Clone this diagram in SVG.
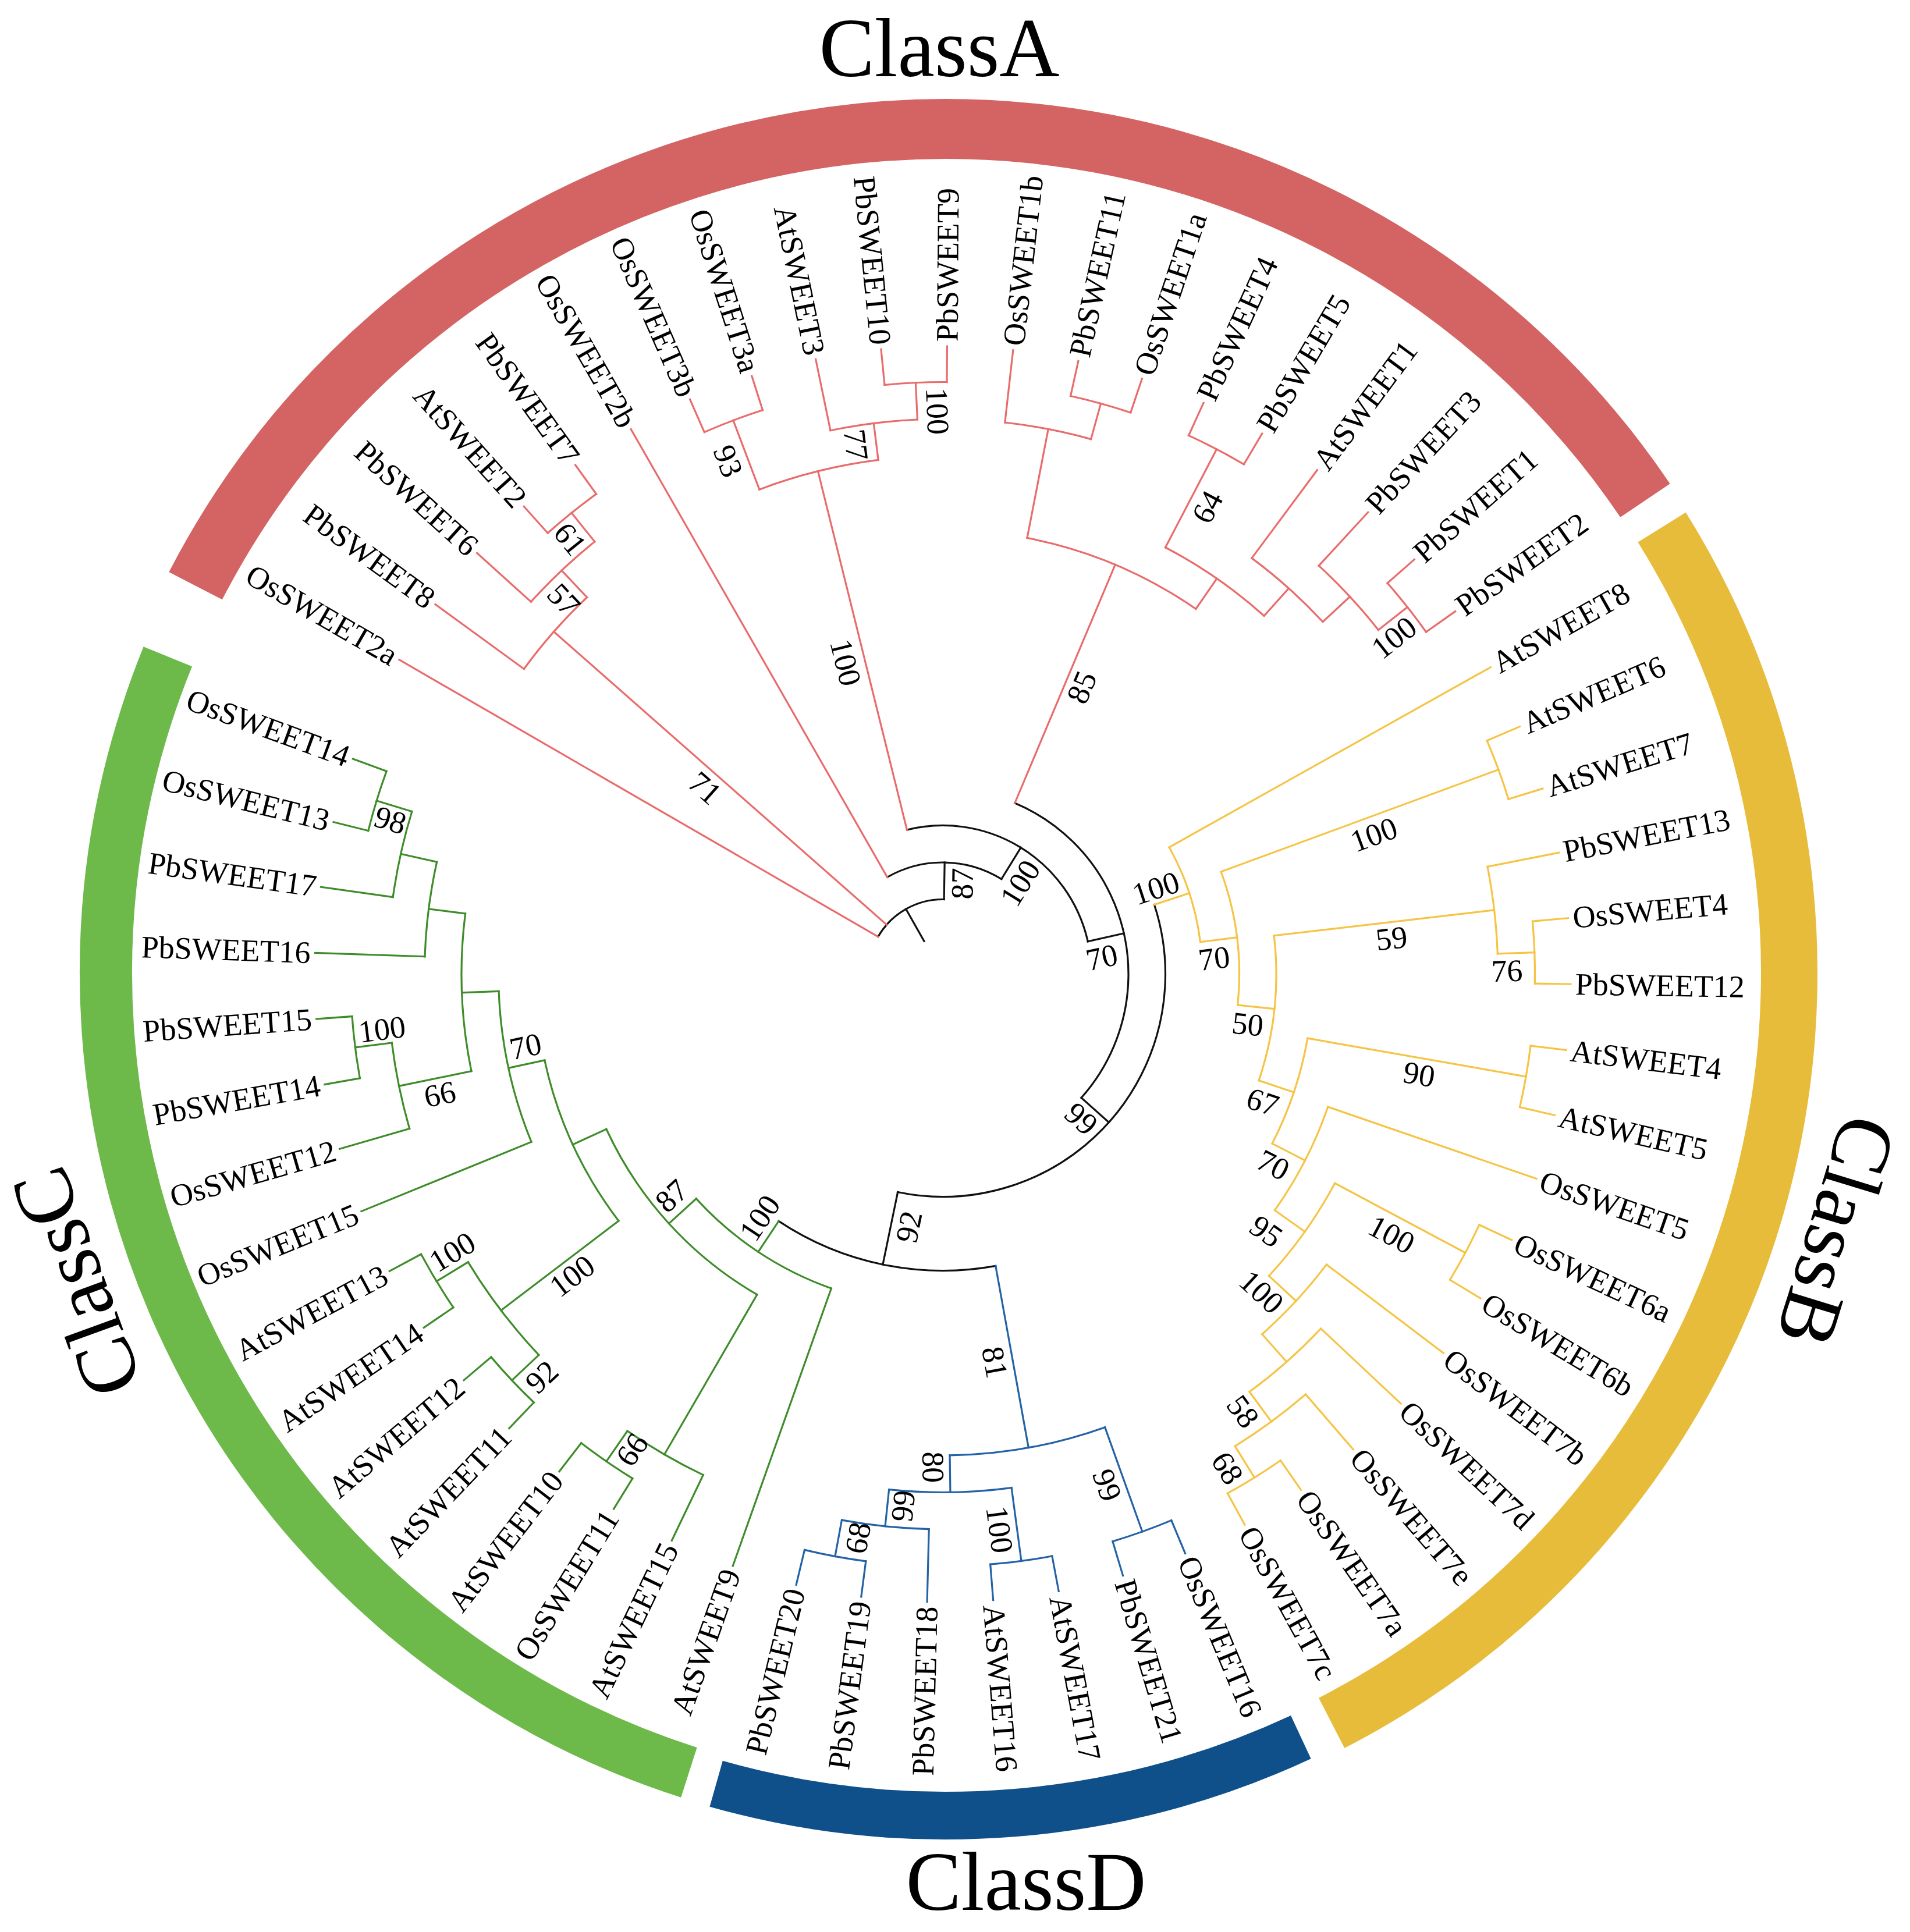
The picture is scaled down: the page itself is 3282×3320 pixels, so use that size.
<svg xmlns="http://www.w3.org/2000/svg" width="3282" height="3320" viewBox="0 0 3282 3320">
<style>
.c line,.c circle{fill:none;stroke-width:3.2;stroke-linecap:square}
.k{stroke:#111111}.r{stroke:#E96C6C}.y{stroke:#F6C445}.g{stroke:#3F8C2A}.u{stroke:#2462A6}
text{font-family:"Liberation Serif","Times New Roman",serif;fill:#000}
.lf text{font-size:54px;dominant-baseline:central}
.lf .f{text-anchor:end}
.bs text{font-size:54px;text-anchor:middle;dominant-baseline:central}
.cl{font-size:143px;text-anchor:middle}
</style>
<rect width="3282" height="3320" fill="#fff"/>
<g id="class-rings" fill="none" transform="translate(1625,1672)">
<circle id="ring-ClassA" r="1450.5" stroke="#D46464" stroke-width="103" stroke-dasharray="3003.74 99999" transform="rotate(-152.7)"/>
<circle id="ring-ClassB" r="1449.5" stroke="#E8BC3B" stroke-width="97" stroke-dasharray="2394.96 99999" transform="rotate(-31.9)"/>
<circle id="ring-ClassD" r="1448" stroke="#10508A" stroke-width="82" stroke-dasharray="1029.34 99999" transform="rotate(65.07)"/>
<circle id="ring-ClassC" r="1443" stroke="#6DBA4B" stroke-width="90" stroke-dasharray="2375.71 99999" transform="rotate(107.8)"/>
</g>
<g id="class-labels">
<text class="cl" x="1614" y="131">ClassA</text>
<text class="cl" x="1763" y="3282">ClassD</text>
<text class="cl" font-size="138" transform="translate(3110,2102) rotate(107)">ClassB</text>
<text class="cl" font-size="138" transform="translate(176,2187) rotate(250)">ClassC</text>
</g>
<g transform="translate(1620,1674)">
<g id="connectors" class="c">
<g class="k">
<line x1="65" x2="128.5" transform="rotate(-119.501)"/>
<line x1="128.5" x2="192" transform="rotate(-89.051)"/>
<line x1="192" x2="255.5" transform="rotate(-58.324)"/>
<line x1="255.5" x2="319" transform="rotate(-12.712)"/>
<line x1="319" x2="382.5" transform="rotate(41.743)"/>
<line x1="382.5" x2="509.5" transform="rotate(101.666)"/>
<circle r="128.5" stroke-dasharray="136.58 9999" transform="rotate(-149.95)"/>
<circle r="192" stroke-dasharray="205.93 9999" transform="rotate(-119.778)"/>
<circle r="255.5" stroke-dasharray="406.80 9999" transform="rotate(-103.937)"/>
<circle r="319" stroke-dasharray="606.36 9999" transform="rotate(-67.166)"/>
<circle r="382.5" stroke-dasharray="800.13 9999" transform="rotate(-18.188)"/>
<circle r="509.5" stroke-dasharray="390.09 9999" transform="rotate(79.738)"/>
</g>
<g class="r">
<line x1="128.5" x2="1079" transform="rotate(-149.95)"/>
<line x1="128.5" x2="890.5" transform="rotate(-138.635)"/>
<line x1="192" x2="1079" transform="rotate(-119.778)"/>
<line x1="255.5" x2="890.5" transform="rotate(-103.937)"/>
<line x1="319" x2="763.5" transform="rotate(-67.166)"/>
<line x1="890.5" x2="1079" transform="rotate(-143.916)"/>
<line x1="890.5" x2="954" transform="rotate(-133.355)"/>
<line x1="954" x2="1079" transform="rotate(-137.881)"/>
<line x1="954" x2="1017.5" transform="rotate(-128.830)"/>
<line x1="1017.5" x2="1079" transform="rotate(-131.847)"/>
<line x1="1017.5" x2="1079" transform="rotate(-125.812)"/>
<line x1="890.5" x2="1017.5" transform="rotate(-110.726)"/>
<line x1="1017.5" x2="1079" transform="rotate(-113.743)"/>
<line x1="1017.5" x2="1079" transform="rotate(-107.709)"/>
<line x1="890.5" x2="954" transform="rotate(-97.148)"/>
<line x1="954" x2="1079" transform="rotate(-101.674)"/>
<line x1="954" x2="1017.5" transform="rotate(-92.622)"/>
<line x1="1017.5" x2="1079" transform="rotate(-95.640)"/>
<line x1="1017.5" x2="1079" transform="rotate(-89.605)"/>
<line x1="763.5" x2="954" transform="rotate(-79.048)"/>
<line x1="954" x2="1079" transform="rotate(-83.571)"/>
<line x1="954" x2="1017.5" transform="rotate(-74.519)"/>
<line x1="1017.5" x2="1079" transform="rotate(-77.536)"/>
<line x1="1017.5" x2="1079" transform="rotate(-71.502)"/>
<line x1="763.5" x2="827" transform="rotate(-55.284)"/>
<line x1="827" x2="1017.5" transform="rotate(-62.450)"/>
<line x1="1017.5" x2="1079" transform="rotate(-65.467)"/>
<line x1="1017.5" x2="1079" transform="rotate(-59.433)"/>
<line x1="827" x2="890.5" transform="rotate(-48.118)"/>
<line x1="890.5" x2="1079" transform="rotate(-53.398)"/>
<line x1="890.5" x2="954" transform="rotate(-42.838)"/>
<line x1="954" x2="1079" transform="rotate(-47.364)"/>
<line x1="954" x2="1017.5" transform="rotate(-38.312)"/>
<line x1="1017.5" x2="1079" transform="rotate(-41.329)"/>
<line x1="1017.5" x2="1079" transform="rotate(-35.295)"/>
<circle r="890.5" stroke-dasharray="164.14 9999" transform="rotate(-143.916)"/>
<circle r="954" stroke-dasharray="150.70 9999" transform="rotate(-137.881)"/>
<circle r="1017.5" stroke-dasharray="107.17 9999" transform="rotate(-131.847)"/>
<circle r="890.5" stroke-dasharray="211.03 9999" transform="rotate(-110.726)"/>
<circle r="1017.5" stroke-dasharray="107.16 9999" transform="rotate(-113.743)"/>
<circle r="954" stroke-dasharray="150.72 9999" transform="rotate(-101.674)"/>
<circle r="1017.5" stroke-dasharray="107.17 9999" transform="rotate(-95.640)"/>
<circle r="763.5" stroke-dasharray="316.67 9999" transform="rotate(-79.048)"/>
<circle r="954" stroke-dasharray="150.72 9999" transform="rotate(-83.571)"/>
<circle r="1017.5" stroke-dasharray="107.16 9999" transform="rotate(-77.536)"/>
<circle r="827" stroke-dasharray="206.87 9999" transform="rotate(-62.450)"/>
<circle r="1017.5" stroke-dasharray="107.16 9999" transform="rotate(-65.467)"/>
<circle r="890.5" stroke-dasharray="164.13 9999" transform="rotate(-53.398)"/>
<circle r="954" stroke-dasharray="150.72 9999" transform="rotate(-47.364)"/>
<circle r="1017.5" stroke-dasharray="107.16 9999" transform="rotate(-41.329)"/>
</g>
<g class="y">
<line x1="382.5" x2="446" transform="rotate(-18.188)"/>
<line x1="446" x2="1079" transform="rotate(-29.260)"/>
<line x1="446" x2="509.5" transform="rotate(-7.116)"/>
<line x1="509.5" x2="1017.5" transform="rotate(-20.208)"/>
<line x1="1017.5" x2="1079" transform="rotate(-23.226)"/>
<line x1="1017.5" x2="1079" transform="rotate(-17.191)"/>
<line x1="509.5" x2="573" transform="rotate(5.981)"/>
<line x1="573" x2="954" transform="rotate(-6.631)"/>
<line x1="954" x2="1079" transform="rotate(-11.157)"/>
<line x1="954" x2="1017.5" transform="rotate(-2.105)"/>
<line x1="1017.5" x2="1079" transform="rotate(-5.122)"/>
<line x1="1017.5" x2="1079" transform="rotate(0.912)"/>
<line x1="573" x2="636.5" transform="rotate(18.591)"/>
<line x1="636.5" x2="1017.5" transform="rotate(9.964)"/>
<line x1="1017.5" x2="1079" transform="rotate(6.947)"/>
<line x1="1017.5" x2="1079" transform="rotate(12.981)"/>
<line x1="636.5" x2="700" transform="rotate(27.219)"/>
<line x1="700" x2="1079" transform="rotate(19.016)"/>
<line x1="700" x2="763.5" transform="rotate(35.422)"/>
<line x1="763.5" x2="1017.5" transform="rotate(28.067)"/>
<line x1="1017.5" x2="1079" transform="rotate(25.050)"/>
<line x1="1017.5" x2="1079" transform="rotate(31.084)"/>
<line x1="763.5" x2="827" transform="rotate(42.777)"/>
<line x1="827" x2="1079" transform="rotate(37.119)"/>
<line x1="827" x2="890.5" transform="rotate(48.434)"/>
<line x1="890.5" x2="1079" transform="rotate(43.153)"/>
<line x1="890.5" x2="954" transform="rotate(53.714)"/>
<line x1="954" x2="1079" transform="rotate(49.188)"/>
<line x1="954" x2="1017.5" transform="rotate(58.240)"/>
<line x1="1017.5" x2="1079" transform="rotate(55.222)"/>
<line x1="1017.5" x2="1079" transform="rotate(61.257)"/>
<circle r="446" stroke-dasharray="172.37 9999" transform="rotate(-29.260)"/>
<circle r="509.5" stroke-dasharray="232.88 9999" transform="rotate(-20.208)"/>
<circle r="1017.5" stroke-dasharray="107.17 9999" transform="rotate(-23.226)"/>
<circle r="573" stroke-dasharray="252.24 9999" transform="rotate(-6.631)"/>
<circle r="954" stroke-dasharray="150.72 9999" transform="rotate(-11.157)"/>
<circle r="1017.5" stroke-dasharray="107.16 9999" transform="rotate(-5.122)"/>
<circle r="636.5" stroke-dasharray="191.69 9999" transform="rotate(9.964)"/>
<circle r="1017.5" stroke-dasharray="107.16 9999" transform="rotate(6.947)"/>
<circle r="700" stroke-dasharray="200.44 9999" transform="rotate(19.016)"/>
<circle r="763.5" stroke-dasharray="196.02 9999" transform="rotate(28.067)"/>
<circle r="1017.5" stroke-dasharray="107.16 9999" transform="rotate(25.050)"/>
<circle r="827" stroke-dasharray="163.32 9999" transform="rotate(37.119)"/>
<circle r="890.5" stroke-dasharray="164.14 9999" transform="rotate(43.153)"/>
<circle r="954" stroke-dasharray="150.72 9999" transform="rotate(49.188)"/>
<circle r="1017.5" stroke-dasharray="107.17 9999" transform="rotate(55.222)"/>
</g>
<g class="u">
<line x1="509.5" x2="827" transform="rotate(79.738)"/>
<line x1="827" x2="1017.5" transform="rotate(70.309)"/>
<line x1="1017.5" x2="1079" transform="rotate(67.291)"/>
<line x1="1017.5" x2="1079" transform="rotate(73.326)"/>
<line x1="827" x2="890.5" transform="rotate(89.166)"/>
<line x1="890.5" x2="1017.5" transform="rotate(82.377)"/>
<line x1="1017.5" x2="1079" transform="rotate(79.360)"/>
<line x1="1017.5" x2="1079" transform="rotate(85.395)"/>
<line x1="890.5" x2="954" transform="rotate(95.955)"/>
<line x1="954" x2="1079" transform="rotate(91.429)"/>
<line x1="954" x2="1017.5" transform="rotate(100.481)"/>
<line x1="1017.5" x2="1079" transform="rotate(97.464)"/>
<line x1="1017.5" x2="1079" transform="rotate(103.498)"/>
<circle r="827" stroke-dasharray="272.18 9999" transform="rotate(70.309)"/>
<circle r="1017.5" stroke-dasharray="107.17 9999" transform="rotate(67.291)"/>
<circle r="890.5" stroke-dasharray="211.03 9999" transform="rotate(82.377)"/>
<circle r="1017.5" stroke-dasharray="107.17 9999" transform="rotate(79.360)"/>
<circle r="954" stroke-dasharray="150.72 9999" transform="rotate(91.429)"/>
<circle r="1017.5" stroke-dasharray="107.17 9999" transform="rotate(97.464)"/>
</g>
<g class="g">
<line x1="509.5" x2="573" transform="rotate(123.606)"/>
<line x1="573" x2="1079" transform="rotate(109.533)"/>
<line x1="573" x2="636.5" transform="rotate(137.677)"/>
<line x1="636.5" x2="954" transform="rotate(120.093)"/>
<line x1="954" x2="1079" transform="rotate(115.567)"/>
<line x1="954" x2="1017.5" transform="rotate(124.619)"/>
<line x1="1017.5" x2="1079" transform="rotate(121.602)"/>
<line x1="1017.5" x2="1079" transform="rotate(127.636)"/>
<line x1="636.5" x2="700" transform="rotate(155.266)"/>
<line x1="700" x2="954" transform="rotate(142.722)"/>
<line x1="954" x2="1017.5" transform="rotate(136.688)"/>
<line x1="1017.5" x2="1079" transform="rotate(133.671)"/>
<line x1="1017.5" x2="1079" transform="rotate(139.705)"/>
<line x1="954" x2="1017.5" transform="rotate(148.757)"/>
<line x1="1017.5" x2="1079" transform="rotate(145.740)"/>
<line x1="1017.5" x2="1079" transform="rotate(151.774)"/>
<line x1="700" x2="763.5" transform="rotate(167.803)"/>
<line x1="763.5" x2="1079" transform="rotate(157.809)"/>
<line x1="763.5" x2="827" transform="rotate(177.798)"/>
<line x1="827" x2="954" transform="rotate(168.369)"/>
<line x1="954" x2="1079" transform="rotate(163.843)"/>
<line x1="954" x2="1017.5" transform="rotate(172.895)"/>
<line x1="1017.5" x2="1079" transform="rotate(169.878)"/>
<line x1="1017.5" x2="1079" transform="rotate(175.912)"/>
<line x1="827" x2="890.5" transform="rotate(187.227)"/>
<line x1="890.5" x2="1079" transform="rotate(181.947)"/>
<line x1="890.5" x2="954" transform="rotate(192.507)"/>
<line x1="954" x2="1079" transform="rotate(187.981)"/>
<line x1="954" x2="1017.5" transform="rotate(197.033)"/>
<line x1="1017.5" x2="1079" transform="rotate(194.016)"/>
<line x1="1017.5" x2="1079" transform="rotate(200.050)"/>
<circle r="573" stroke-dasharray="281.46 9999" transform="rotate(109.533)"/>
<circle r="636.5" stroke-dasharray="390.74 9999" transform="rotate(120.093)"/>
<circle r="954" stroke-dasharray="150.72 9999" transform="rotate(115.567)"/>
<circle r="1017.5" stroke-dasharray="107.16 9999" transform="rotate(121.602)"/>
<circle r="700" stroke-dasharray="306.42 9999" transform="rotate(142.722)"/>
<circle r="954" stroke-dasharray="200.95 9999" transform="rotate(136.688)"/>
<circle r="1017.5" stroke-dasharray="107.16 9999" transform="rotate(133.671)"/>
<circle r="1017.5" stroke-dasharray="107.16 9999" transform="rotate(145.740)"/>
<circle r="763.5" stroke-dasharray="266.37 9999" transform="rotate(157.809)"/>
<circle r="827" stroke-dasharray="272.20 9999" transform="rotate(168.369)"/>
<circle r="954" stroke-dasharray="150.72 9999" transform="rotate(163.843)"/>
<circle r="1017.5" stroke-dasharray="107.16 9999" transform="rotate(169.878)"/>
<circle r="890.5" stroke-dasharray="164.13 9999" transform="rotate(181.947)"/>
<circle r="954" stroke-dasharray="150.72 9999" transform="rotate(187.981)"/>
<circle r="1017.5" stroke-dasharray="107.16 9999" transform="rotate(194.016)"/>
</g>
</g>
<g id="leaves" class="lf">
<g id="leaf-OsSWEET2a"><text class="f" transform="rotate(-149.95) translate(1087 0) rotate(180)">OsSWEET2a</text></g>
<g id="leaf-PbSWEET8"><text class="f" transform="rotate(-143.916) translate(1087 0) rotate(180)">PbSWEET8</text></g>
<g id="leaf-PbSWEET6"><text class="f" transform="rotate(-137.881) translate(1087 0) rotate(180)">PbSWEET6</text></g>
<g id="leaf-AtSWEET2"><text class="f" transform="rotate(-131.847) translate(1087 0) rotate(180)">AtSWEET2</text></g>
<g id="leaf-PbSWEET7"><text class="f" transform="rotate(-125.812) translate(1087 0) rotate(180)">PbSWEET7</text></g>
<g id="leaf-OsSWEET2b"><text class="f" transform="rotate(-119.778) translate(1087 0) rotate(180)">OsSWEET2b</text></g>
<g id="leaf-OsSWEET3b"><text class="f" transform="rotate(-113.743) translate(1087 0) rotate(180)">OsSWEET3b</text></g>
<g id="leaf-OsSWEET3a"><text class="f" transform="rotate(-107.709) translate(1087 0) rotate(180)">OsSWEET3a</text></g>
<g id="leaf-AtSWEET3"><text class="f" transform="rotate(-101.674) translate(1087 0) rotate(180)">AtSWEET3</text></g>
<g id="leaf-PbSWEET10"><text class="f" transform="rotate(-95.640) translate(1087 0) rotate(180)">PbSWEET10</text></g>
<g id="leaf-PbSWEET9"><text transform="rotate(-89.605) translate(1087 0)">PbSWEET9</text></g>
<g id="leaf-OsSWEET1b"><text transform="rotate(-83.571) translate(1087 0)">OsSWEET1b</text></g>
<g id="leaf-PbSWEET11"><text transform="rotate(-77.536) translate(1087 0)">PbSWEET11</text></g>
<g id="leaf-OsSWEET1a"><text transform="rotate(-71.502) translate(1087 0)">OsSWEET1a</text></g>
<g id="leaf-PbSWEET4"><text transform="rotate(-65.467) translate(1087 0)">PbSWEET4</text></g>
<g id="leaf-PbSWEET5"><text transform="rotate(-59.433) translate(1087 0)">PbSWEET5</text></g>
<g id="leaf-AtSWEET1"><text transform="rotate(-53.398) translate(1087 0)">AtSWEET1</text></g>
<g id="leaf-PbSWEET3"><text transform="rotate(-47.364) translate(1087 0)">PbSWEET3</text></g>
<g id="leaf-PbSWEET1"><text transform="rotate(-41.329) translate(1087 0)">PbSWEET1</text></g>
<g id="leaf-PbSWEET2"><text transform="rotate(-35.295) translate(1087 0)">PbSWEET2</text></g>
<g id="leaf-AtSWEET8"><text transform="rotate(-29.260) translate(1087 0)">AtSWEET8</text></g>
<g id="leaf-AtSWEET6"><text transform="rotate(-23.226) translate(1087 0)">AtSWEET6</text></g>
<g id="leaf-AtSWEET7"><text transform="rotate(-17.191) translate(1087 0)">AtSWEET7</text></g>
<g id="leaf-PbSWEET13"><text transform="rotate(-11.157) translate(1087 0)">PbSWEET13</text></g>
<g id="leaf-OsSWEET4"><text transform="rotate(-5.122) translate(1087 0)">OsSWEET4</text></g>
<g id="leaf-PbSWEET12"><text transform="rotate(0.912) translate(1087 0)">PbSWEET12</text></g>
<g id="leaf-AtSWEET4"><text transform="rotate(6.947) translate(1087 0)">AtSWEET4</text></g>
<g id="leaf-AtSWEET5"><text transform="rotate(12.981) translate(1087 0)">AtSWEET5</text></g>
<g id="leaf-OsSWEET5"><text transform="rotate(19.016) translate(1087 0)">OsSWEET5</text></g>
<g id="leaf-OsSWEET6a"><text transform="rotate(25.050) translate(1087 0)">OsSWEET6a</text></g>
<g id="leaf-OsSWEET6b"><text transform="rotate(31.084) translate(1087 0)">OsSWEET6b</text></g>
<g id="leaf-OsSWEET7b"><text transform="rotate(37.119) translate(1087 0)">OsSWEET7b</text></g>
<g id="leaf-OsSWEET7d"><text transform="rotate(43.153) translate(1087 0)">OsSWEET7d</text></g>
<g id="leaf-OsSWEET7e"><text transform="rotate(49.188) translate(1087 0)">OsSWEET7e</text></g>
<g id="leaf-OsSWEET7a"><text transform="rotate(55.222) translate(1087 0)">OsSWEET7a</text></g>
<g id="leaf-OsSWEET7c"><text transform="rotate(61.257) translate(1087 0)">OsSWEET7c</text></g>
<g id="leaf-OsSWEET16"><text transform="rotate(67.291) translate(1087 0)">OsSWEET16</text></g>
<g id="leaf-PbSWEET21"><text transform="rotate(73.326) translate(1087 0)">PbSWEET21</text></g>
<g id="leaf-AtSWEET17"><text transform="rotate(79.360) translate(1087 0)">AtSWEET17</text></g>
<g id="leaf-AtSWEET16"><text transform="rotate(85.395) translate(1087 0)">AtSWEET16</text></g>
<g id="leaf-PbSWEET18"><text class="f" transform="rotate(91.429) translate(1087 0) rotate(180)">PbSWEET18</text></g>
<g id="leaf-PbSWEET19"><text class="f" transform="rotate(97.464) translate(1087 0) rotate(180)">PbSWEET19</text></g>
<g id="leaf-PbSWEET20"><text class="f" transform="rotate(103.498) translate(1087 0) rotate(180)">PbSWEET20</text></g>
<g id="leaf-AtSWEET9"><text class="f" transform="rotate(109.533) translate(1087 0) rotate(180)">AtSWEET9</text></g>
<g id="leaf-AtSWEET15"><text class="f" transform="rotate(115.567) translate(1087 0) rotate(180)">AtSWEET15</text></g>
<g id="leaf-OsSWEET11"><text class="f" transform="rotate(121.602) translate(1087 0) rotate(180)">OsSWEET11</text></g>
<g id="leaf-AtSWEET10"><text class="f" transform="rotate(127.636) translate(1087 0) rotate(180)">AtSWEET10</text></g>
<g id="leaf-AtSWEET11"><text class="f" transform="rotate(133.671) translate(1087 0) rotate(180)">AtSWEET11</text></g>
<g id="leaf-AtSWEET12"><text class="f" transform="rotate(139.705) translate(1087 0) rotate(180)">AtSWEET12</text></g>
<g id="leaf-AtSWEET14"><text class="f" transform="rotate(145.740) translate(1087 0) rotate(180)">AtSWEET14</text></g>
<g id="leaf-AtSWEET13"><text class="f" transform="rotate(151.774) translate(1087 0) rotate(180)">AtSWEET13</text></g>
<g id="leaf-OsSWEET15"><text class="f" transform="rotate(157.809) translate(1087 0) rotate(180)">OsSWEET15</text></g>
<g id="leaf-OsSWEET12"><text class="f" transform="rotate(163.843) translate(1087 0) rotate(180)">OsSWEET12</text></g>
<g id="leaf-PbSWEET14"><text class="f" transform="rotate(169.878) translate(1087 0) rotate(180)">PbSWEET14</text></g>
<g id="leaf-PbSWEET15"><text class="f" transform="rotate(175.912) translate(1087 0) rotate(180)">PbSWEET15</text></g>
<g id="leaf-PbSWEET16"><text class="f" transform="rotate(181.947) translate(1087 0) rotate(180)">PbSWEET16</text></g>
<g id="leaf-PbSWEET17"><text class="f" transform="rotate(187.981) translate(1087 0) rotate(180)">PbSWEET17</text></g>
<g id="leaf-OsSWEET13"><text class="f" transform="rotate(194.016) translate(1087 0) rotate(180)">OsSWEET13</text></g>
<g id="leaf-OsSWEET14"><text class="f" transform="rotate(200.050) translate(1087 0) rotate(180)">OsSWEET14</text></g>
</g>
<g id="bootstrap" class="bs">
<g id="node-N87"><text transform="rotate(-89.051) translate(156 31)">87</text></g>
<g id="node-N100a"><text transform="rotate(-58.324) translate(203 31)">100</text></g>
<g id="node-N70"><text transform="rotate(-12.712) translate(273 32)">70</text></g>
<g id="node-N99"><text transform="rotate(41.743) translate(343 27)">99</text></g>
<g id="node-N92"><text transform="rotate(101.666) translate(437 -31) rotate(180)">92</text></g>
<g id="node-N71"><text transform="rotate(-138.635) translate(518 -30) rotate(180)">71</text></g>
<g id="node-N57"><text transform="rotate(-133.355) translate(915 -32) rotate(180)">57</text></g>
<g id="node-N61"><text transform="rotate(-128.830) translate(984 -30) rotate(180)">61</text></g>
<g id="node-N93"><text transform="rotate(-110.726) translate(955 -33) rotate(180)">93</text></g>
<g id="node-N77"><text transform="rotate(-97.148) translate(921 -35) rotate(180)">77</text></g>
<g id="node-N100-9-10"><text transform="rotate(-92.622) translate(967 35) rotate(180)">100</text></g>
<g id="node-N100-3b"><text transform="rotate(-103.937) translate(560 -33) rotate(180)">100</text></g>
<g id="node-N85"><text transform="rotate(-67.166) translate(547 29)">85</text></g>
<g id="node-N64"><text transform="rotate(-62.450) translate(922 32)">64</text></g>
<g id="node-N100-1-2"><text transform="rotate(-38.312) translate(967 27)">100</text></g>
<g id="node-ClassB"><text transform="rotate(-18.188) translate(394 -26)">100</text></g>
<g id="node-N70b"><text transform="rotate(-7.116) translate(466 31)">70</text></g>
<g id="node-N100-6-7"><text transform="rotate(-20.208) translate(778 31)">100</text></g>
<g id="node-N50"><text transform="rotate(5.981) translate(530 31)">50</text></g>
<g id="node-N59"><text transform="rotate(-6.631) translate(773 28)">59</text></g>
<g id="node-N76"><text transform="rotate(-2.105) translate(969 30)">76</text></g>
<g id="node-N67"><text transform="rotate(18.591) translate(591 33)">67</text></g>
<g id="node-N90"><text transform="rotate(9.964) translate(836 28)">90</text></g>
<g id="node-N70c"><text transform="rotate(27.219) translate(655 32)">70</text></g>
<g id="node-N95"><text transform="rotate(35.422) translate(709 38)">95</text></g>
<g id="node-N100-6ab"><text transform="rotate(28.067) translate(891 32)">100</text></g>
<g id="node-N100-7"><text transform="rotate(42.777) translate(773 29)">100</text></g>
<g id="node-N58"><text transform="rotate(53.714) translate(911 29)">58</text></g>
<g id="node-N68"><text transform="rotate(58.240) translate(979 31)">68</text></g>
<g id="node-N81"><text transform="rotate(79.738) translate(672 31)">81</text></g>
<g id="node-N80"><text transform="rotate(89.166) translate(847 29)">80</text></g>
<g id="node-N99d"><text transform="rotate(70.309) translate(922 30)">99</text></g>
<g id="node-N99x"><text transform="rotate(95.955) translate(916 -27) rotate(180)">99</text></g>
<g id="node-N100d"><text transform="rotate(82.377) translate(959 30)">100</text></g>
<g id="node-N68d"><text transform="rotate(100.481) translate(979 -33) rotate(180)">68</text></g>
<g id="node-ClassC"><text transform="rotate(123.606) translate(523 30) rotate(180)">100</text></g>
<g id="node-N87c"><text transform="rotate(137.677) translate(601 32) rotate(180)">87</text></g>
<g id="node-N100c2"><text transform="rotate(142.722) translate(821 -27) rotate(180)">100</text></g>
<g id="node-N92c"><text transform="rotate(136.688) translate(976 -31) rotate(180)">92</text></g>
<g id="node-N100e"><text transform="rotate(148.757) translate(968 29) rotate(180)">100</text></g>
<g id="node-N66c"><text transform="rotate(124.619) translate(976 -25) rotate(180)">66</text></g>
<g id="node-N70d"><text transform="rotate(167.803) translate(727 30) rotate(180)">70</text></g>
<g id="node-N66p"><text transform="rotate(168.369) translate(888 -28) rotate(180)">66</text></g>
<g id="node-N100p"><text transform="rotate(172.895) translate(968 25) rotate(180)">100</text></g>
<g id="node-N98"><text transform="rotate(197.033) translate(985 -25) rotate(180)">98</text></g>
</g>
</g>
</svg>
